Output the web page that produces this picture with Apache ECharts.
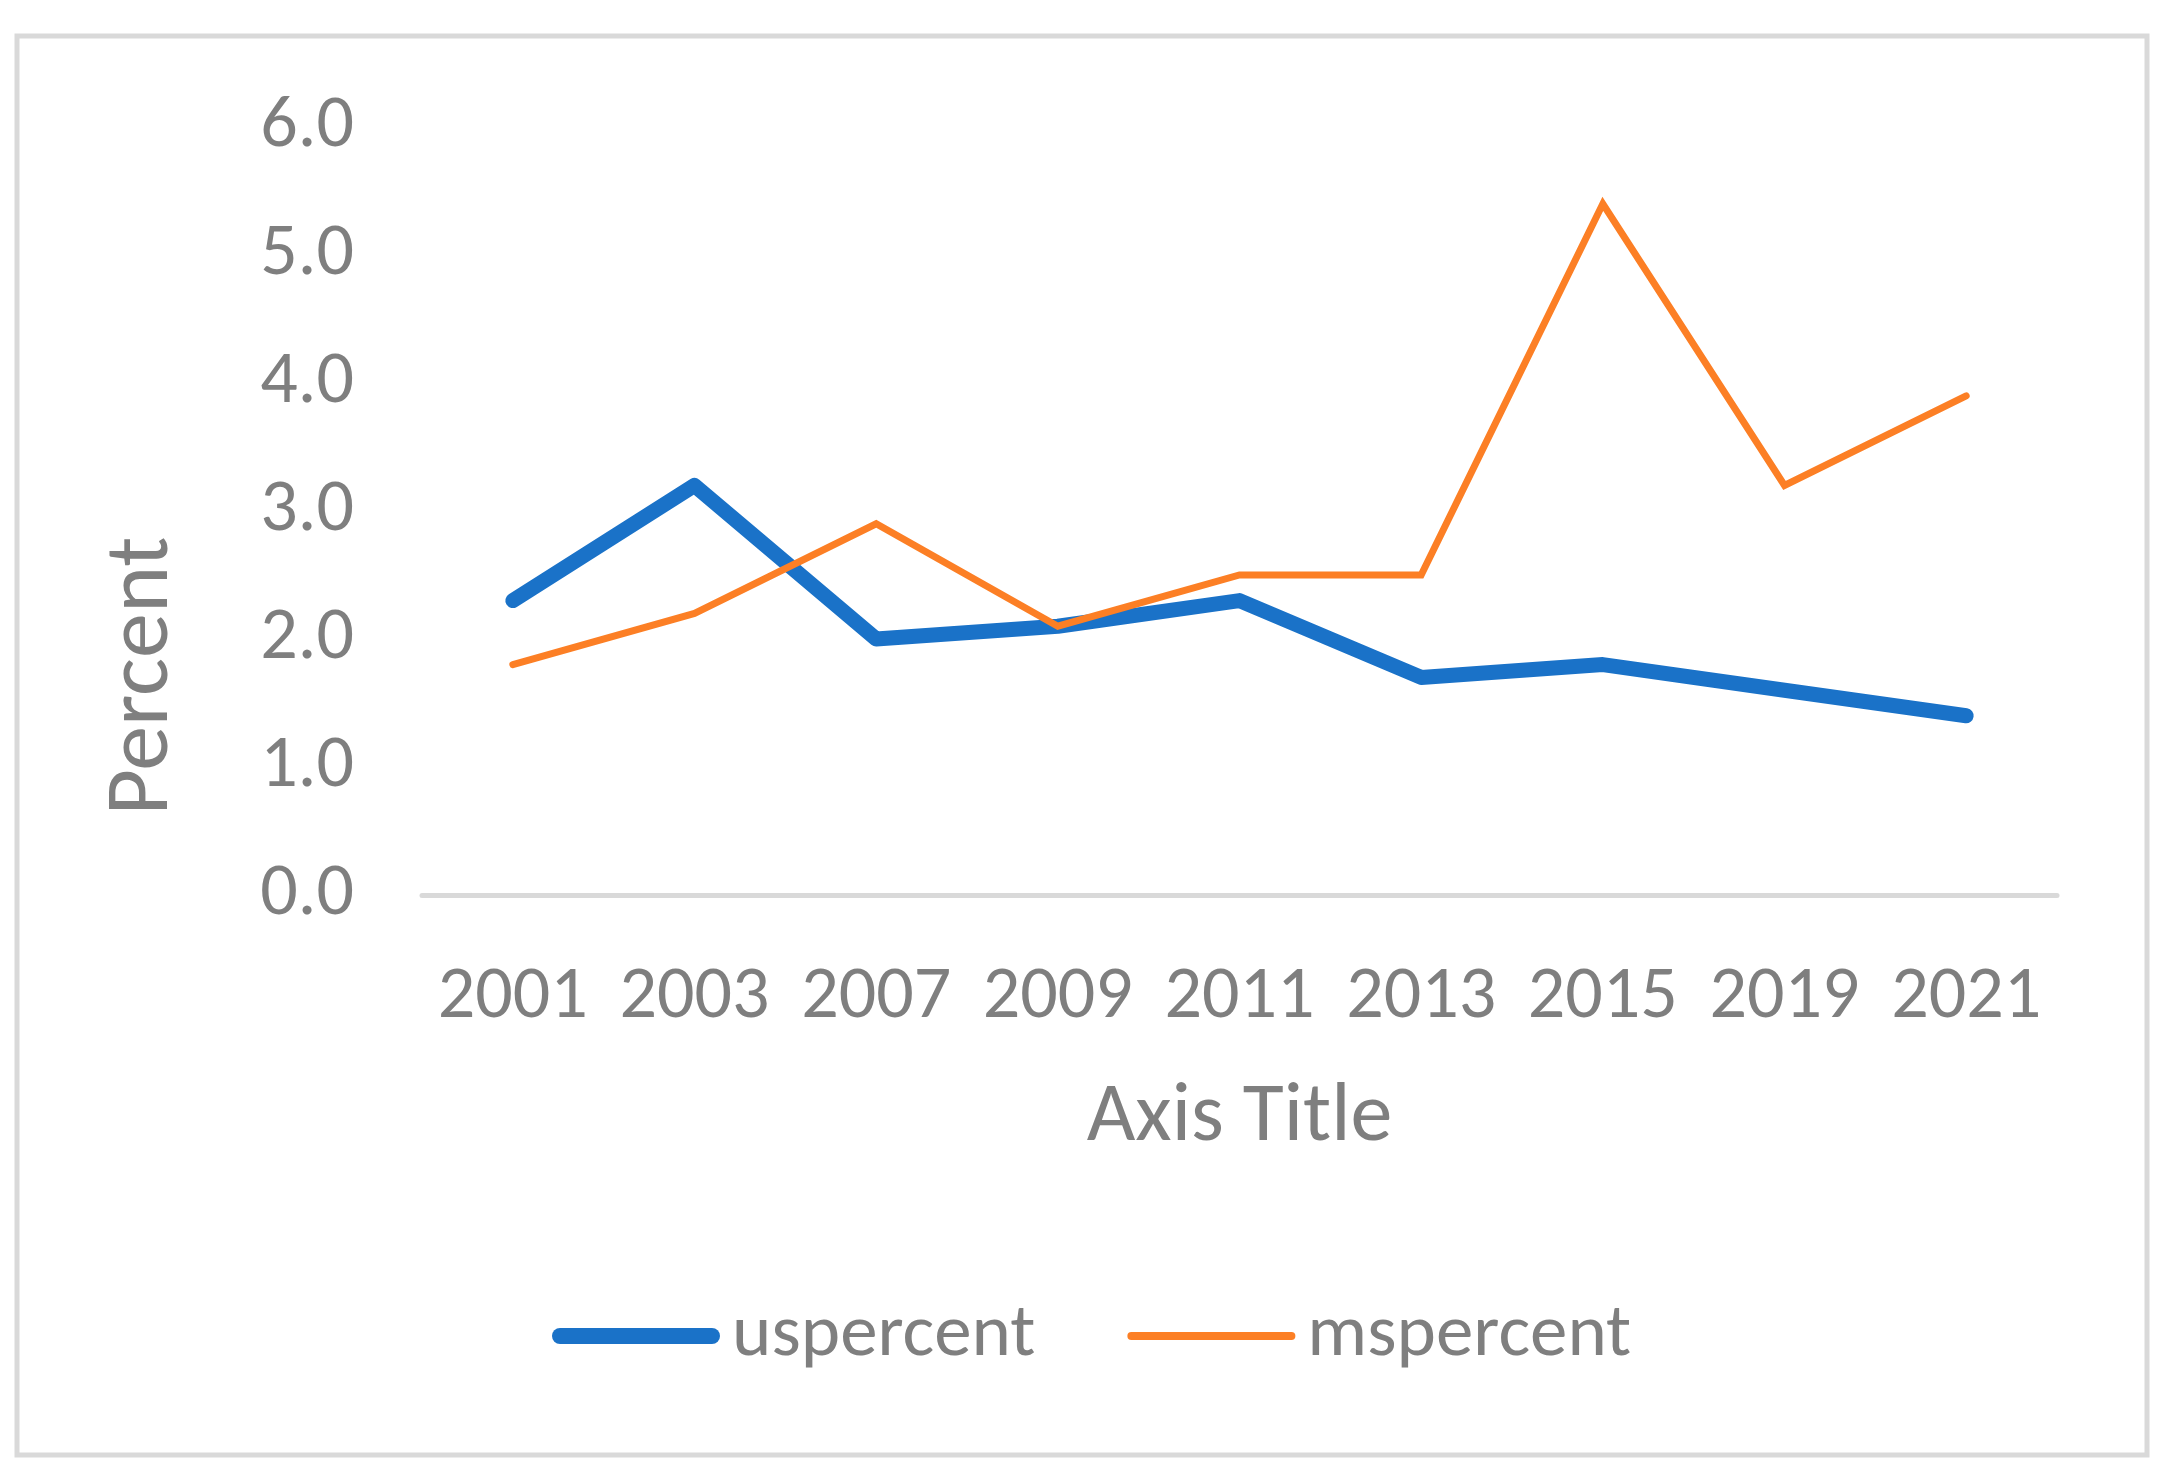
<!DOCTYPE html>
<html>
<head>
<meta charset="utf-8">
<script src="https://cdn.jsdelivr.net/npm/echarts@6/dist/echarts.min.js"></script>
<style>
html,body{margin:0;padding:0;background:#fff;}
#chart{width:2169px;height:1479px;}
</style>
</head>
<body>
<div id="chart"></div>
<script>
const years = ['2001','2003','2007','2009','2011','2013','2015','2019','2021'];
const usPercent = [2.3, 3.2, 2.0, 2.1, 2.3, 1.7, 1.8, 1.6, 1.4];
const msPercent = [1.8, 2.2, 2.9, 2.1, 2.5, 2.5, 5.4, 3.2, 3.9];
const seriesNames = ['uspercent', 'mspercent'];
const yAxisName = 'Percent';
const xAxisName = 'Axis Title';

const FONT = 'Carlito, "Open Sans", sans-serif';
const GRAY = '#7f7f7f';
const BLUE = '#1a72c8';
const ORANGE = '#fc7f25';

const chart = echarts.init(document.getElementById('chart'));
chart.setOption({
  animation: false,
  backgroundColor: '#fff',
  textStyle: { fontFamily: FONT },
  graphic: [
    { type: 'rect', shape: { x: 17, y: 36, width: 2130, height: 1419 },
      style: { fill: 'none', stroke: '#d9d9d9', lineWidth: 5 } },
    { type: 'text', x: 144, y: 676, rotation: Math.PI / 2,
      style: { text: yAxisName, fill: GRAY, font: '90px ' + FONT, align: 'center', verticalAlign: 'middle' } }
  ],
  grid: { left: 422, right: 2169 - 2057, top: 127, bottom: 1479 - 895, containLabel: false },
  legend: {
    left: 547, top: 1335 - 49, itemWidth: 168, itemHeight: 90, itemGap: 92,
    symbolKeepAspect: true,
    textStyle: { color: GRAY, fontSize: 75, fontFamily: FONT, lineHeight: 90, padding: [0, 0, 0, 7] },
    data: [
      { name: seriesNames[0], icon: 'path://M8,0H160A8,8 0 0 1 160,16H8A8,8 0 0 1 8,0Z' },
      { name: seriesNames[1], icon: 'path://M4,0H164A4,4 0 0 1 164,8H4A4,4 0 0 1 4,0Z' }
    ]
  },
  xAxis: {
    type: 'category', data: years, boundaryGap: true,
    name: xAxisName, nameLocation: 'middle', nameGap: 182,
    nameTextStyle: { color: GRAY, fontSize: 84, fontFamily: FONT, lineHeight: 84 },
    axisLine: { show: true, lineStyle: { color: '#d9d9d9', width: 5 } },
    axisTick: { show: false },
    axisLabel: { color: GRAY, fontSize: 74, fontFamily: FONT, margin: 66, lineHeight: 74, interval: 0 },
    splitLine: { show: false }
  },
  yAxis: {
    type: 'value', min: 0, max: 6, interval: 1,
    axisLine: { show: false }, axisTick: { show: false },
    splitLine: { show: false },
    axisLabel: { color: GRAY, fontSize: 74, fontFamily: FONT, margin: 68,
      formatter: v => v.toFixed(1) }
  },
  series: [
    { name: seriesNames[0], type: 'line', data: usPercent, symbol: 'none',
      lineStyle: { color: BLUE, width: 15, cap: 'round', join: 'round' }, itemStyle: { color: BLUE } },
    { name: seriesNames[1], type: 'line', data: msPercent, symbol: 'none',
      lineStyle: { color: ORANGE, width: 7, cap: 'round', join: 'miter' }, itemStyle: { color: ORANGE } }
  ]
});
</script>
</body>
</html>
